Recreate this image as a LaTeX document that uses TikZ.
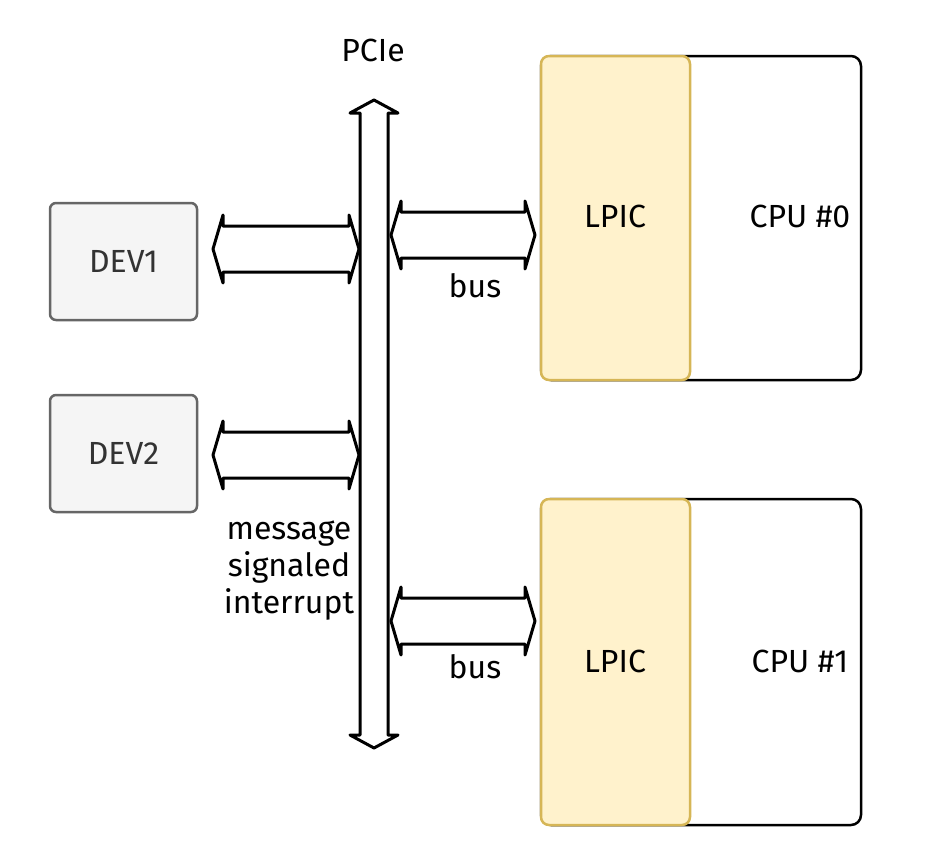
\documentclass[tikz,border=0pt]{standalone}
\usepackage{fontspec}
\setmainfont{Fira Sans}
\definecolor{devfill}{HTML}{F5F5F5}
\definecolor{devline}{HTML}{666666}
\definecolor{devtext}{HTML}{333333}
\definecolor{lpicfill}{HTML}{FFF2CC}
\definecolor{lpicline}{HTML}{D6B656}
\newcommand\flexh[3]{% left tip x, right tip x, center y
  \draw[blk] (#1,#3) -- (#1+10,#3-34) -- (#1+10,#3-23) -- (#2-10,#3-23) -- (#2-10,#3-34)
    -- (#2,#3) -- (#2-10,#3+34) -- (#2-10,#3+23) -- (#1+10,#3+23) -- (#1+10,#3+34) -- cycle;}
\begin{document}
\begin{tikzpicture}[x=1pt,y=-1pt,
  blk/.style={draw=black,line width=3pt,fill=white,line join=round},
  devbox/.style={draw=devline,fill=devfill,line width=2.5pt,rounded corners=6pt,text=devtext},
  cpubox/.style={draw=black,fill=white,line width=2.5pt,rounded corners=10pt},
  lpicbox/.style={draw=lpicline,fill=lpicfill,line width=2.5pt,rounded corners=8pt},
  lbl/.style={font=\fontsize{32}{37}\selectfont,align=center,inner sep=0pt}]
\useasboundingbox (0,0) rectangle (950,860);
% devices
\node[devbox,minimum width=147pt,minimum height=117pt,inner sep=0pt,lbl] (dev1) at (123.5,261.5) {DEV1};
\node[devbox,minimum width=147pt,minimum height=117pt,inner sep=0pt,lbl] (dev2) at (123.5,453.5) {DEV2};
% CPUs
\node[cpubox,minimum width=320pt,minimum height=324pt,inner sep=0pt] (cpu0) at (701,218) {};
\node[lpicbox,minimum width=149pt,minimum height=324pt,inner sep=0pt] (lpic0) at (615.5,218) {};
\node[lbl] at (615,216) {LPIC};
\node[lbl] (cpu0t) at (800,216) {CPU \#0};
\node[cpubox,minimum width=320pt,minimum height=326pt,inner sep=0pt] (cpu1) at (701,662) {};
\node[lpicbox,minimum width=149pt,minimum height=326pt,inner sep=0pt] (lpic1) at (615.5,662) {};
\node[lbl] at (615,661) {LPIC};
\node[lbl] (cpu1t) at (800,661) {CPU \#1};
% PCIe bus
\coordinate (pcietop) at (374,100);
\coordinate (pciebot) at (374,748);
\draw[blk] (pcietop) -- (398,113) -- (388,113) -- (388,735) -- (398,735) -- (pciebot)
  -- (350,735) -- (360,735) -- (360,113) -- (350,113) -- cycle;
\node[lbl] (pcie) at (373,50) {PCIe};
% arrows
\flexh{213}{359}{249}
\flexh{213}{359}{455}
\flexh{391}{535}{235}
\flexh{391}{535}{621}
\node[lbl] (bus0) at (475,286) {bus};
\node[lbl] (bus1) at (475,667) {bus};
\node[lbl] (msi) at (289,571) {message\\signaled\\interrupt};
\end{tikzpicture}
\end{document}
